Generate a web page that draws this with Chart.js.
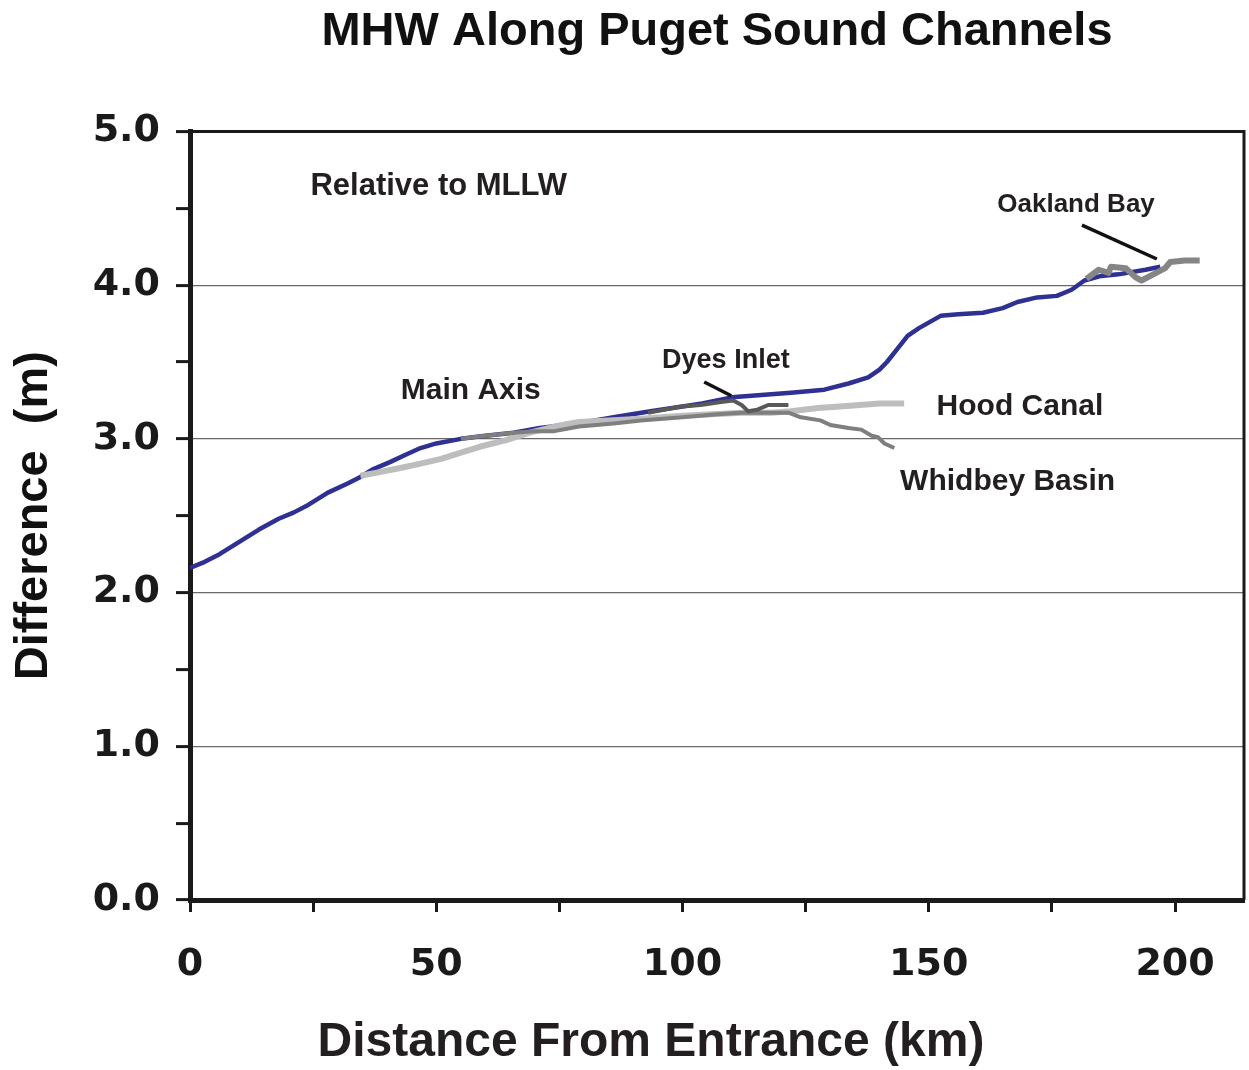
<!DOCTYPE html>
<html>
<head>
<meta charset="utf-8">
<script src="https://cdn.jsdelivr.net/npm/chart.js@4.4.0/dist/chart.umd.min.js"></script>
<style>
html,body{margin:0;padding:0;background:#fff}
canvas{display:block}
</style>
</head>
<body>
<canvas id="myChart" width="1249" height="1070"></canvas>
<script>
// MHW relative to MLLW: distance (km) / difference (m)
mainKm=[0,3,6,10,14,18,21,24,28,32,34.5,37,40.7,44,46.8,50,55,60,65.7,71,78.7,86,93.5,100,104,110,114,122,128.8,133.7,137.7,140,141.5,143.5,145.7,148,152.4,156,161,165,168,172,176,179,181.6,185,188.5,194,197]
mainM=[2.16,2.20,2.25,2.33,2.41,2.48,2.52,2.57,2.65,2.71,2.75,2.80,2.85,2.90,2.94,2.97,3.00,3.02,3.04,3.07,3.10,3.14,3.18,3.21,3.23,3.27,3.28,3.30,3.32,3.36,3.40,3.45,3.50,3.58,3.67,3.72,3.80,3.81,3.82,3.85,3.89,3.92,3.93,3.97,4.03,4.06,4.07,4.10,4.12]

hoodKm=[34.6,38,42.7,47,51,55,59,64,69,74,79,85,91.5,100,106,112,118,122,127.5,132,140,145]
hoodM=[2.76,2.78,2.81,2.84,2.87,2.91,2.95,2.99,3.04,3.08,3.11,3.12,3.13,3.15,3.16,3.17,3.17,3.18,3.20,3.21,3.23,3.23]

whidbeyKm=[55,60,65.7,70,74,79,86,91.5,100,107,112,121.5,124,128,130,133.7,136.3,138.4,139.7,141,143]
whidbeyM=[3.00,3.02,3.04,3.05,3.05,3.08,3.10,3.12,3.14,3.16,3.17,3.17,3.14,3.12,3.09,3.07,3.06,3.02,3.01,2.97,2.94]

dyesKm=[93,99.7,103.7,107.8,110.3,112,113.3,115.2,117.4,121.5]
dyesM=[3.17,3.21,3.22,3.24,3.25,3.22,3.18,3.19,3.22,3.22]

oaklandKm=[182,184.5,186.5,187,190,192,193.2,195,198,199,202,205]
oaklandM=[4.04,4.10,4.08,4.12,4.11,4.05,4.03,4.06,4.11,4.15,4.16,4.16]

// labels written on the plot (position in km / m)
etichette=[
  {testo:'Relative to MLLW', km:50.5, m:4.64, size:31},
  {testo:'Main Axis', km:57, m:3.31, size:30},
  {testo:'Dyes Inlet', km:108.8, m:3.51, size:27},
  {testo:'Hood Canal', km:168.5, m:3.21, size:30},
  {testo:'Whidbey Basin', km:166, m:2.72, size:30},
  {testo:'Oakland Bay', km:179.9, m:4.52, size:26}
]
// leader lines
frecce=[
  [104.4,3.37,109.9,3.28],
  [181.1,4.39,196.3,4.17]
]

function punti(xs,ys){
  p=[]
  for(i=0;i<xs.length;i++) p.push({x:xs[i],y:ys[i]})
  return p
}

const extra = {
  id:'extra',
  afterDraw(chart){
    const c=chart.ctx, a=chart.chartArea
    const sx=chart.scales.x, sy=chart.scales.y
    c.save()
    // top and right frame
    c.strokeStyle='#1a1a1a'
    c.lineWidth=3
    c.beginPath()
    c.moveTo(a.left,a.top); c.lineTo(a.right,a.top); c.lineTo(a.right,a.bottom)
    c.stroke()
    // annotations
    c.fillStyle='#231f20'
    c.textAlign='center'
    c.textBaseline='middle'
    etichette.forEach(e=>{
      c.font='bold '+e.size+'px "Liberation Sans", Arial, sans-serif'
      c.fillText(e.testo, sx.getPixelForValue(e.km), sy.getPixelForValue(e.m))
    })
    c.lineWidth=3.5
    c.strokeStyle='#111'
    frecce.forEach(f=>{
      c.beginPath()
      c.moveTo(sx.getPixelForValue(f[0]), sy.getPixelForValue(f[1]))
      c.lineTo(sx.getPixelForValue(f[2]), sy.getPixelForValue(f[3]))
      c.stroke()
    })
    // x axis title
    c.font='bold 48px "Liberation Sans", Arial, sans-serif'
    c.fillText('Distance From Entrance (km)', 651, 1043)
    c.restore()
  }
}

const ctx = document.getElementById('myChart').getContext('2d');
const myChart = new Chart(ctx, {
  type:'line',
  data:{
    datasets:[
      {label:'Oakland Bay', data:punti(oaklandKm,oaklandM), borderColor:'#858585', borderWidth:6, order:1},
      {label:'Dyes Inlet', data:punti(dyesKm,dyesM), borderColor:'#595959', borderWidth:4, order:2},
      {label:'Whidbey Basin', data:punti(whidbeyKm,whidbeyM), borderColor:'#7f7f7f', borderWidth:4, order:3},
      {label:'Hood Canal', data:punti(hoodKm,hoodM), borderColor:'#bdbdbd', borderWidth:6, order:4},
      {label:'Main Axis', data:punti(mainKm,mainM), borderColor:'#2e3192', borderWidth:4.5, order:5}
    ]
  },
  options:{
    responsive:false,
    animation:false,
    layout:{padding:{left:0,right:5,top:0,bottom:0}},
    elements:{point:{radius:0}, line:{tension:0, borderJoinStyle:'round', borderCapStyle:'butt', fill:false}},
    plugins:{
      legend:{display:false},
      tooltip:{enabled:false},
      title:{
        display:true,
        text:'MHW Along Puget Sound Channels',
        fullSize:false,
        color:'#111',
        font:{family:'"Liberation Sans", Arial, sans-serif', size:47, weight:'bold', lineHeight:1.2},
        padding:{top:4,bottom:71}
      }
    },
    scales:{
      x:{
        type:'linear',
        min:0, max:214,
        border:{display:true, color:'#1a1a1a', width:5},
        grid:{drawOnChartArea:false, drawTicks:true, tickLength:12, tickWidth:3, tickColor:'#1a1a1a'},
        ticks:{
          stepSize:25, includeBounds:false, autoSkip:false, maxRotation:0, padding:30,
          color:'#1a1a1a',
          font:{family:'"DejaVu Sans", sans-serif', size:38, weight:'bold'},
          callback:v=> v%50===0 ? String(v) : ''
        },
        afterFit:s=>{ s.height=170 }
      },
      y:{
        min:0, max:5,
        border:{display:true, color:'#1a1a1a', width:5},
        grid:{
          color:c=> (c.tick && c.tick.value%1===0 && c.tick.value>0 && c.tick.value<5) ? '#6a6a6a' : 'rgba(0,0,0,0)',
          lineWidth:1.2,
          tickLength:14, tickWidth:3, tickColor:'#1a1a1a'
        },
        ticks:{
          stepSize:0.5, padding:16,
          color:'#1a1a1a',
          font:{family:'"DejaVu Sans", sans-serif', size:38, weight:'bold'},
          callback:v=> v%1===0 ? v.toFixed(1) : ''
        },
        title:{
          display:true, text:'Difference  (m)', color:'#111',
          font:{family:'"Liberation Sans", Arial, sans-serif', size:47, weight:'bold', lineHeight:1.2},
          padding:{top:6,bottom:0}
        },
        afterFit:s=>{ s.width=190 }
      }
    }
  },
  plugins:[extra]
});
</script>
</body>
</html>
